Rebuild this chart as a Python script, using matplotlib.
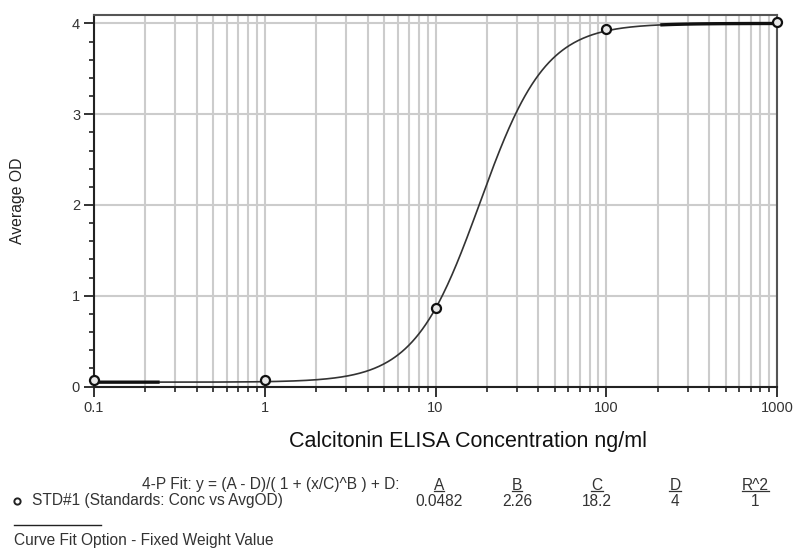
import numpy as np
import matplotlib.pyplot as plt
from matplotlib.lines import Line2D
from matplotlib.ticker import LogLocator, FixedLocator, MultipleLocator, FixedFormatter

# ---- data ----
std_conc = [0.1, 1, 10, 100, 1000]
std_od = [0.07, 0.07, 0.87, 3.94, 4.02]

# 4-P fit parameters shown under the chart
fit_A = 0.0482
fit_B = 2.26
fit_C = 18.2
fit_D = 4
fit_R2 = 1

param_names = ["A", "B", "C", "D", "R^2"]
param_values = ["0.0482", "2.26", "18.2", "4", "1"]

x_ticks = [0.1, 1, 10, 100, 1000]
x_tick_labels = ["0.1", "1", "10", "100", "1000"]
y_ticks = [0, 1, 2, 3, 4]

W, H = 796, 549
FS = 11.2  # text size of the fit table
plt.rcParams["font.family"] = ["Liberation Sans", "DejaVu Sans"]

fig = plt.figure(figsize=(W / 100, H / 100), dpi=100)
ax = fig.add_axes([94 / W, 1 - 387 / H, (777 - 94) / W, (387 - 15) / H])


def four_pl(x):
    return (fit_A - fit_D) / (1 + (x / fit_C) ** fit_B) + fit_D


# fitted curve (thin) plus the heavier end pieces
xs = np.logspace(-1, 3, 600)
ax.plot(xs, four_pl(xs), color="#333333", lw=1.2, zorder=3)
xl = np.logspace(-1, np.log10(0.237), 50)
ax.plot(xl, four_pl(xl), color="#111111", lw=2.4, zorder=3)
xr = np.logspace(np.log10(212), 3, 50)
ax.plot(xr, four_pl(xr), color="#111111", lw=2.4, zorder=3)

ax.plot(std_conc, std_od, "o", ms=6.5, mfc="#e8e8e8", mec="#111111", mew=1.6,
        zorder=4, clip_on=False)

ax.set_xscale("log")
ax.set_xlim(0.1, 1000)
ax.set_ylim(-0.005, 4.093)

ax.xaxis.set_major_locator(FixedLocator(x_ticks))
ax.xaxis.set_major_formatter(FixedFormatter(x_tick_labels))
ax.xaxis.set_minor_locator(LogLocator(base=10, subs=np.arange(2, 10)))
ax.yaxis.set_major_locator(FixedLocator(y_ticks))
ax.yaxis.set_minor_locator(MultipleLocator(0.2))

ax.grid(True, which="both", axis="x", color="#cccccc", lw=1.5)
ax.grid(True, which="major", axis="y", color="#cccccc", lw=1.5)
ax.set_axisbelow(True)

for side in ["left", "bottom"]:
    ax.spines[side].set_color("#222222")
    ax.spines[side].set_linewidth(1.5)
for side in ["top", "right"]:
    ax.spines[side].set_color("#555555")
    ax.spines[side].set_linewidth(1.5)

ax.tick_params(which="major", length=7, width=1.3, color="#222222",
               labelsize=10.5, labelcolor="#333333", pad=3)
ax.tick_params(which="minor", length=3.5, width=1.2, color="#222222")
ax.tick_params(axis="x", which="minor", labelbottom=False)

ax.set_ylabel("Average OD", fontsize=11.3, color="#222222")
ax.yaxis.set_label_coords(-(94 - 18) / (777 - 94), (387 - 201) / (387 - 15))
ax.set_xlabel("Calcitonin ELISA Concentration ng/ml", fontsize=15.5,
              color="#111111")
ax.xaxis.set_label_coords((468 - 94) / (777 - 94), -(441 - 387) / (387 - 15))
ax.xaxis.label.set_va("center")
ax.yaxis.label.set_va("center")


def fx(px):
    return px / W


def fy(py):
    return 1 - py / H


tc = "#333333"
fig.text(fx(400), fy(485), "4-P Fit: y = (A - D)/( 1 + (x/C)^B ) + D:",
         ha="right", va="center", fontsize=FS, color=tc)
fig.add_artist(Line2D([fx(17)], [fy(501)], marker="o", ms=4.5, mfc="white",
                      mec="#222222", mew=1.4, transform=fig.transFigure))
fig.text(fx(32), fy(501), "STD#1 (Standards: Conc vs AvgOD)",
         ha="left", va="center", fontsize=FS, color=tc)

col_x = [439, 517, 597, 675, 755]
fig.canvas.draw()
renderer = fig.canvas.get_renderer()
for cx, name, val in zip(col_x, param_names, param_values):
    t = fig.text(fx(cx), fy(485), name, ha="center", va="center",
                 fontsize=FS, color=tc)
    bb = t.get_window_extent(renderer)
    fig.add_artist(Line2D([bb.x0 / W, bb.x1 / W], [fy(491), fy(491)],
                          color=tc, lw=0.9, transform=fig.transFigure))
    fig.text(fx(cx), fy(501), val, ha="center", va="center",
             fontsize=FS, color=tc)

fig.add_artist(Line2D([fx(14), fx(101)], [fy(525), fy(525)], color="#222222",
                      lw=1.0, transform=fig.transFigure))
fig.text(fx(14), fy(540), "Curve Fit Option - Fixed Weight Value",
         ha="left", va="center", fontsize=FS, color=tc)

fig.savefig("out.png", dpi=100)
